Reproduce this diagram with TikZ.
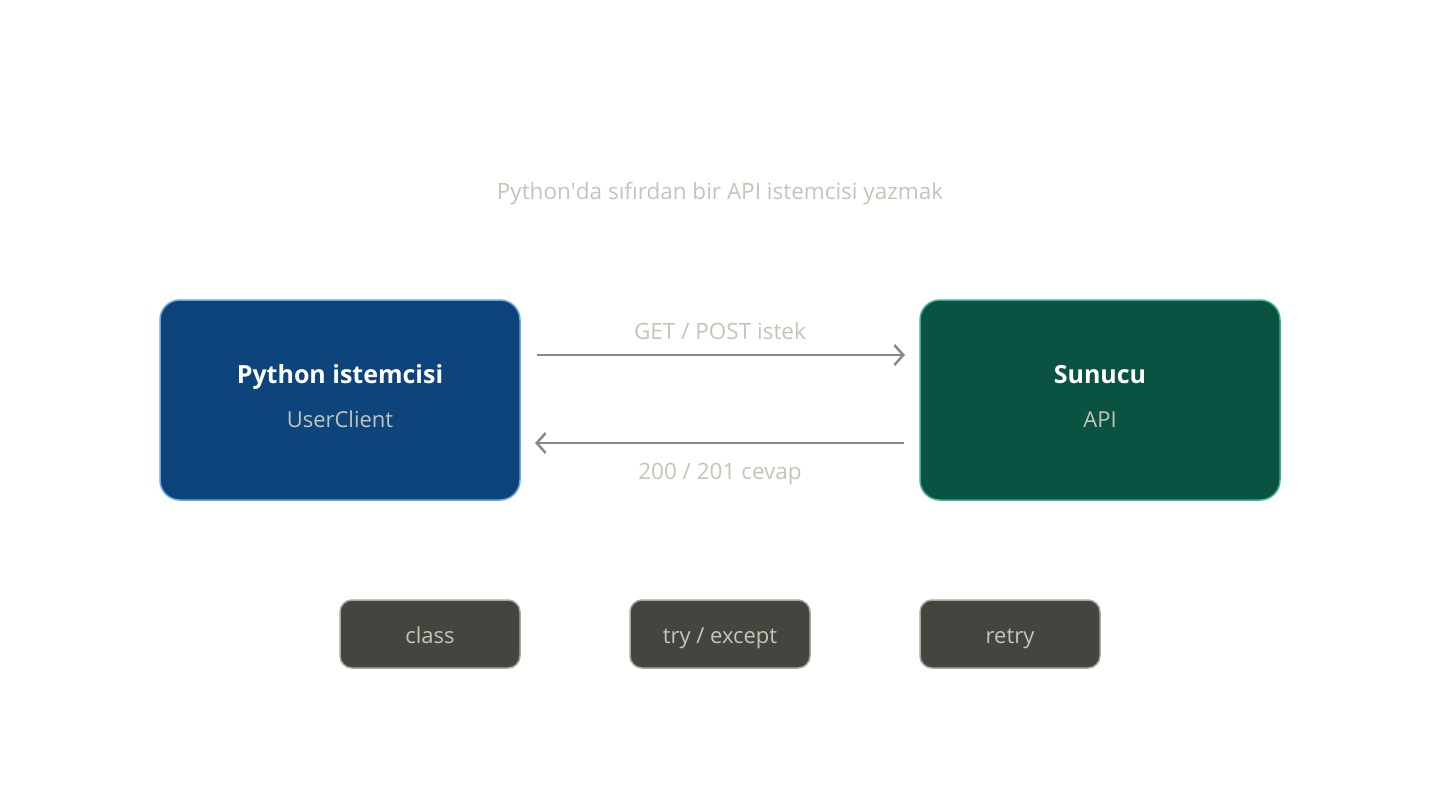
\documentclass[tikz,border=0pt]{standalone}
\usepackage{fontspec}
\setmainfont{Open Sans}
\newfontfamily\plainquote{Open Sans}
\usetikzlibrary{arrows.meta}
\definecolor{txtc}{HTML}{C4C4B8}
\definecolor{arrc}{HTML}{8A8A82}
\definecolor{bluef}{HTML}{0D447C}
\definecolor{blued}{HTML}{6AA5E0}
\definecolor{greenf}{HTML}{0A5241}
\definecolor{greend}{HTML}{3DB08C}
\definecolor{grayf}{HTML}{454540}
\definecolor{grayd}{HTML}{A8A89E}
\tikzset{
  bigbox/.style={draw, line width=1.5pt, rounded corners=20pt, minimum width=360pt, minimum height=200pt},
  chip/.style={draw=grayd, fill=grayf, line width=1.5pt, rounded corners=12pt, minimum width=180pt, minimum height=68pt},
  chiptext/.style={text=txtc, font=\fontsize{22}{26}\selectfont, anchor=base},
  lbl/.style={text=txtc, font=\fontsize{22.5}{27}\selectfont, anchor=base},
  conn/.style={draw=arrc, line width=2.5pt, -{Straight Barb[length=9pt,width=20pt,line width=2.5pt]}},
}
\begin{document}
\begin{tikzpicture}[x=1pt,y=-1pt]
\useasboundingbox (0,0) rectangle (1440,800);
\node[lbl] (title) at (720,199) {Python{\plainquote'}da sıfırdan bir API istemcisi yazmak};
\node[bigbox, draw=blued, fill=bluef] (client) at (340,400) {};
\node[bigbox, draw=greend, fill=greenf] (server) at (1100,400) {};
\node[text=white, font=\fontsize{25}{30}\selectfont\bfseries, anchor=base] (ct) at (340,383) {Python istemcisi};
\node[lbl, font=\fontsize{22}{26}\selectfont] (cs) at (340,427) {UserClient};
\node[text=white, font=\fontsize{25}{30}\selectfont\bfseries, anchor=base] (st) at (1100,383) {Sunucu};
\node[lbl, font=\fontsize{22}{26}\selectfont] (ss) at (1100,427) {API};
\coordinate (a1s) at (537,355);
\coordinate (a1e) at (905,355);
\coordinate (a2s) at (904,443);
\coordinate (a2e) at (535,443);
\draw[conn] (a1s) -- (a1e);
\draw[conn] (a2s) -- (a2e);
\node[lbl] (l1) at (720,339) {GET / POST istek};
\node[lbl] (l2) at (720,479) {200 / 201 cevap};
\node[chip] (c1) at (430,634) {};
\node[chip] (c2) at (720,634) {};
\node[chip] (c3) at (1010,634) {};
\node[chiptext] (t1) at (430,643) {class};
\node[chiptext] (t2) at (720,643) {try / except};
\node[chiptext] (t3) at (1010,643) {retry};
\end{tikzpicture}
\end{document}
